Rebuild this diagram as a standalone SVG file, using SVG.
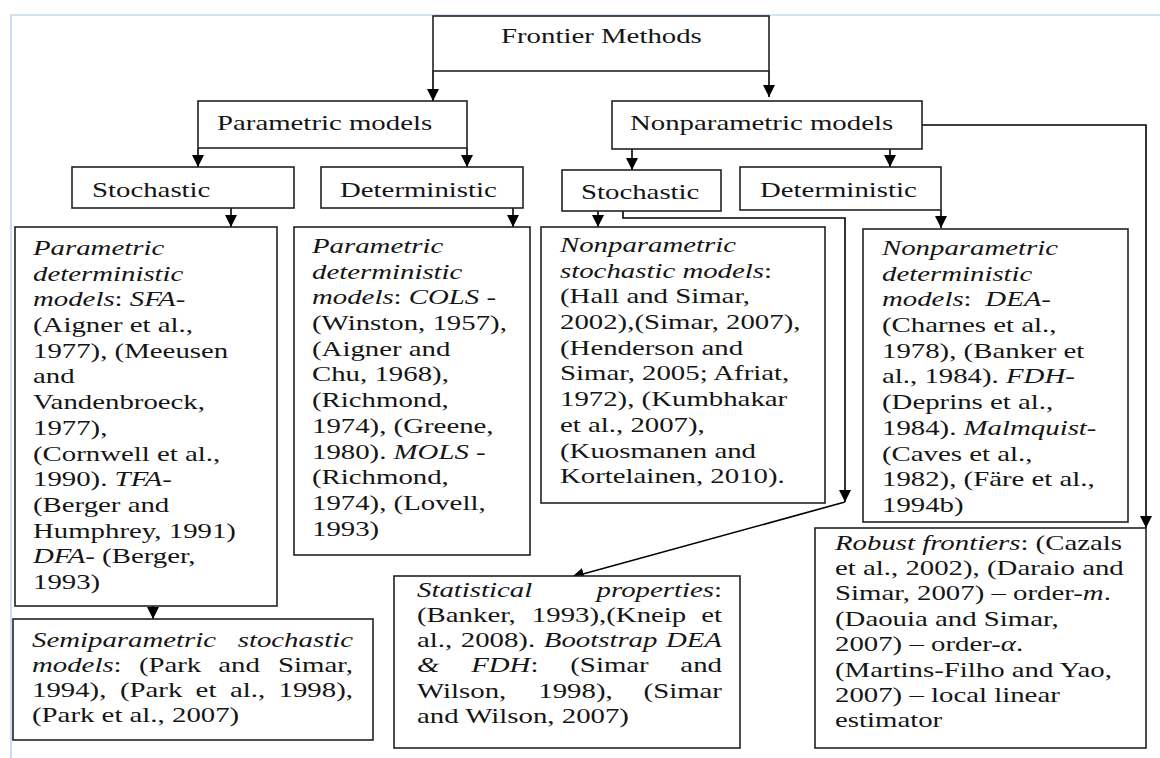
<svg xmlns="http://www.w3.org/2000/svg" width="1160" height="758" viewBox="0 0 1160 758">
<defs>
<marker id="ah" markerUnits="userSpaceOnUse" markerWidth="12" markerHeight="12" viewBox="0 0 12 12" refX="12" refY="6" orient="auto">
<path d="M0,0 L12,6 L0,12 z" fill="#000"/>
</marker>
</defs>
<style>
text{font-family:"Liberation Serif","Times New Roman",serif;font-size:22px;fill:#151515}
.i{font-style:italic}
.box{fill:#fff;stroke:#222;stroke-width:1.6}
.c{fill:none;stroke:#000;stroke-width:1.6}
.a{marker-end:url(#ah)}
.frame{fill:none;stroke:#a9c8ea;stroke-width:1.2}
</style>
<rect width="1160" height="758" fill="#fff"/>
<path class="frame" d="M11,758 V15 H1160"/>

<g id="connectors">
<path class="c a" d="M433,71 V101"/>
<path class="c a" d="M769,71 V97"/>
<path class="c a" d="M198,148 V167"/>
<path class="c a" d="M467,148 V167"/>
<path class="c a" d="M632,149 V170"/>
<path class="c a" d="M890,149 V167"/>
<path class="c a" d="M922,125 H1146 V528"/>
<path class="c a" d="M231,208 V227"/>
<path class="c a" d="M513,208 V227"/>
<path class="c a" d="M598,211 V227"/>
<path class="c a" d="M941,210 V228"/>
<path class="c a" d="M623,211 V218 H845 V502"/>
<path class="c a" d="M845,502 L572,577"/>
<path class="c a" d="M153,606 V619"/>
</g>

<g id="frontier">
<rect class="box" x="433" y="16" width="336" height="55"/>
<text transform="translate(501 43) scale(1.31 1)">Frontier Methods</text>
</g>
<g id="parametric">
<rect class="box" x="198" y="101" width="269" height="47"/>
<text transform="translate(217 130) scale(1.31 1)">Parametric models</text>
</g>
<g id="nonparametric">
<rect class="box" x="612" y="101" width="310" height="48"/>
<text transform="translate(630 130) scale(1.31 1)">Nonparametric models</text>
</g>
<g id="p-stochastic">
<rect class="box" x="72" y="167" width="222" height="41"/>
<text transform="translate(92 197) scale(1.31 1)">Stochastic</text>
</g>
<g id="p-deterministic">
<rect class="box" x="321" y="167" width="202" height="41"/>
<text transform="translate(340 197) scale(1.31 1)">Deterministic</text>
</g>
<g id="np-stochastic">
<rect class="box" x="562" y="170" width="159" height="41"/>
<text transform="translate(581 199) scale(1.31 1)">Stochastic</text>
</g>
<g id="np-deterministic">
<rect class="box" x="740" y="167" width="201" height="43"/>
<text transform="translate(760 197) scale(1.31 1)">Deterministic</text>
</g>

<g id="sfa">
<rect class="box" x="15" y="227" width="262" height="379"/>
<g transform="translate(33 0) scale(1.31 1)">
<text y="255" class="i">Parametric</text>
<text y="280.7" class="i">deterministic</text>
<text y="306.4"><tspan class="i">models</tspan>: <tspan class="i">SFA</tspan>-</text>
<text y="332.1">(Aigner et al.,</text>
<text y="357.8">1977), (Meeusen</text>
<text y="383.5">and</text>
<text y="409.2">Vandenbroeck,</text>
<text y="434.9">1977),</text>
<text y="460.6">(Cornwell et al.,</text>
<text y="486.3">1990). <tspan class="i">TFA</tspan>-</text>
<text y="512">(Berger and</text>
<text y="537.7">Humphrey, 1991)</text>
<text y="563.4"><tspan class="i">DFA</tspan>- (Berger,</text>
<text y="589.1">1993)</text>
</g>
</g>

<g id="cols">
<rect class="box" x="294" y="227" width="236" height="328"/>
<g transform="translate(312 0) scale(1.31 1)">
<text y="253" class="i">Parametric</text>
<text y="278.7" class="i">deterministic</text>
<text y="304.4"><tspan class="i">models</tspan>: <tspan class="i">COLS</tspan> -</text>
<text y="330.1">(Winston, 1957),</text>
<text y="355.8">(Aigner and</text>
<text y="381.5">Chu, 1968),</text>
<text y="407.2">(Richmond,</text>
<text y="432.9">1974), (Greene,</text>
<text y="458.6">1980). <tspan class="i">MOLS</tspan> -</text>
<text y="484.3">(Richmond,</text>
<text y="510">1974), (Lovell,</text>
<text y="535.7">1993)</text>
</g>
</g>

<g id="np-stochastic-models">
<rect class="box" x="541" y="227" width="284" height="276"/>
<g transform="translate(560 0) scale(1.31 1)">
<text y="252" class="i">Nonparametric</text>
<text y="277.7"><tspan class="i">stochastic models</tspan>:</text>
<text y="303.4">(Hall and Simar,</text>
<text y="329.1">2002),(Simar, 2007),</text>
<text y="354.8">(Henderson and</text>
<text y="380.5">Simar, 2005; Afriat,</text>
<text y="406.2">1972), (Kumbhakar</text>
<text y="431.9">et al., 2007),</text>
<text y="457.6">(Kuosmanen and</text>
<text y="483.3">Kortelainen, 2010).</text>
</g>
</g>

<g id="np-deterministic-models">
<rect class="box" x="863" y="229" width="265" height="293"/>
<g transform="translate(882 0) scale(1.31 1)">
<text y="255" class="i">Nonparametric</text>
<text y="280.7" class="i">deterministic</text>
<text y="306.4"><tspan class="i">models</tspan>: <tspan class="i" dx="5">DEA</tspan>-</text>
<text y="332.1">(Charnes et al.,</text>
<text y="357.8">1978), (Banker et</text>
<text y="383.5">al., 1984). <tspan class="i">FDH</tspan>-</text>
<text y="409.2">(Deprins et al.,</text>
<text y="434.9">1984). <tspan class="i">Malmquist</tspan>-</text>
<text y="460.6">(Caves et al.,</text>
<text y="486.3">1982), (Färe et al.,</text>
<text y="512">1994b)</text>
</g>
</g>

<g id="semiparametric">
<rect class="box" x="13" y="619" width="360" height="121"/>
<g transform="translate(32 0) scale(1.31 1)">
<text y="647" class="i">Semiparametric</text>
<text y="647" x="245" text-anchor="end" class="i">stochastic</text>
<text y="672"><tspan class="i">models</tspan>:</text>
<text y="672" x="81.6">(Park</text>
<text y="672" x="142.2">and</text>
<text y="672" x="245" text-anchor="end">Simar,</text>
<text y="697">1994),</text>
<text y="697" x="67.1">(Park</text>
<text y="697" x="124.9">et</text>
<text y="697" x="151.1">al.,</text>
<text y="697" x="245" text-anchor="end">1998),</text>
<text y="722">(Park et al., 2007)</text>
</g>
</g>

<g id="statistical">
<rect class="box" x="394" y="576" width="346" height="172"/>
<g transform="translate(417 0) scale(1.31 1)">
<text y="597" class="i">Statistical</text>
<text y="597" x="232.8" text-anchor="end"><tspan class="i">properties</tspan>:</text>
<text y="622.5">(Banker,</text>
<text y="622.5" x="87.7">1993),(Kneip</text>
<text y="622.5" x="232.8" text-anchor="end">et</text>
<text y="647.5">al.,</text>
<text y="647.5" x="33.4">2008).</text>
<text y="647.5" x="96.8" class="i">Bootstrap</text>
<text y="647.5" x="232.8" text-anchor="end" class="i">DEA</text>
<text y="672.5" class="i">&amp;</text>
<text y="672.5" x="41.4"><tspan class="i">FDH</tspan>:</text>
<text y="672.5" x="117">(Simar</text>
<text y="672.5" x="232.8" text-anchor="end">and</text>
<text y="698">Wilson,</text>
<text y="698" x="92.6">1998),</text>
<text y="698" x="232.8" text-anchor="end">(Simar</text>
<text y="723">and Wilson, 2007)</text>
</g>
</g>

<g id="robust">
<rect class="box" x="815" y="528" width="331" height="220"/>
<g transform="translate(835 0) scale(1.31 1)">
<text y="550"><tspan class="i">Robust frontiers</tspan>: (Cazals</text>
<text y="575.5">et al., 2002), (Daraio and</text>
<text y="600.5">Simar, 2007) – order-<tspan class="i">m</tspan>.</text>
<text y="626">(Daouia and Simar,</text>
<text y="651">2007) – order-<tspan class="i">α</tspan>.</text>
<text y="677">(Martins-Filho and Yao,</text>
<text y="702">2007) – local linear</text>
<text y="727">estimator</text>
</g>
</g>
</svg>
